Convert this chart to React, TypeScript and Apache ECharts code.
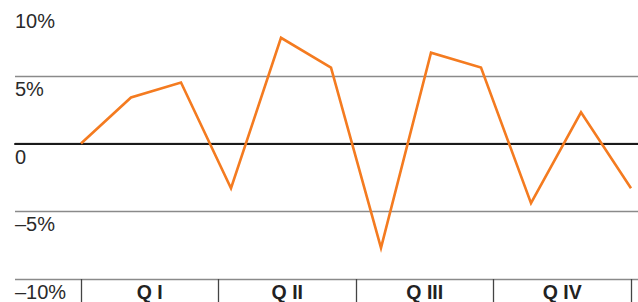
import React, { useEffect, useRef } from "react";
import * as echarts from "echarts";

const quarters = ["Q I", "Q II", "Q III", "Q IV"];
const values = [0, 3.4, 4.5, -3.3, 7.8, 5.6, -7.7, 6.7, 5.6, -4.4, 2.3, -3.3];
const yTicks = [-10, -5, 0, 5, 10];

const fmt = (v: number) => (v === 0 ? "0" : (v < 0 ? "\u2013" + Math.abs(v) : String(v)) + "%");

export default function App() {
  const ref = useRef<HTMLDivElement>(null);
  useEffect(() => {
    if (!ref.current) return;
    const chart = echarts.init(ref.current, undefined, { renderer: "svg" });
    const font = "'Liberation Sans', Arial, Helvetica, sans-serif";
    chart.setOption({
      animation: false,
      grid: [
        { left: 15, right: 0, top: 8, height: 272 },
        { left: 81, right: 7, top: 8, height: 272 },
      ],
      xAxis: [
        {
          gridIndex: 0,
          type: "value",
          min: 0,
          max: 1,
          axisLabel: { show: false },
          axisTick: { show: false },
          splitLine: { show: false },
          axisLine: { show: true, onZero: true, lineStyle: { color: "#1a1a1a", width: 2 } },
          z: 5,
        },
        {
          gridIndex: 1,
          type: "category",
          data: quarters,
          boundaryGap: true,
          position: "bottom",
          axisLine: { show: false, onZero: false },
          axisTick: { show: true, length: 24, interval: 0, lineStyle: { color: "#444", width: 1.3 } },
          axisLabel: {
            interval: 0,
            margin: 3,
            fontFamily: font,
            fontSize: 19.5,
            fontWeight: "bold",
            color: "#222",
          },
          splitLine: { show: false },
        },
        {
          gridIndex: 1,
          type: "value",
          min: 0,
          max: values.length - 1,
          position: "top",
          show: false,
        },
      ],
      yAxis: [
        {
          gridIndex: 0,
          type: "value",
          min: yTicks[0],
          max: yTicks[yTicks.length - 1],
          interval: 5,
          axisLine: { show: false },
          axisTick: { show: false },
          axisLabel: {
            inside: true,
            margin: 0,
            align: "left",
            verticalAlign: "top",
            padding: [3, 0, 0, 0],
            fontFamily: font,
            fontSize: 20,
            color: "#2a2a2a",
            formatter: (v: number) => fmt(v),
          },
          splitLine: {
            show: true,
            lineStyle: { color: ["#8a8a8a", "#8a8a8a", "#8a8a8a", "#8a8a8a", "transparent"], width: 1.3 },
          },
        },
        {
          gridIndex: 1,
          type: "value",
          min: yTicks[0],
          max: yTicks[yTicks.length - 1],
          show: false,
        },
      ],
      series: [
        {
          type: "line",
          xAxisIndex: 2,
          yAxisIndex: 1,
          data: values.map((v, i) => [i, v]),
          showSymbol: false,
          symbol: "none",
          lineStyle: { color: "#f47b20", width: 2.6, join: "miter" },
          z: 10,
        },
      ],
    });
    return () => chart.dispose();
  }, []);
  return (
    <div
      ref={ref}
      style={{ position: "fixed", left: 0, top: 0, width: 638, height: 302, background: "#fff" }}
    />
  );
}
